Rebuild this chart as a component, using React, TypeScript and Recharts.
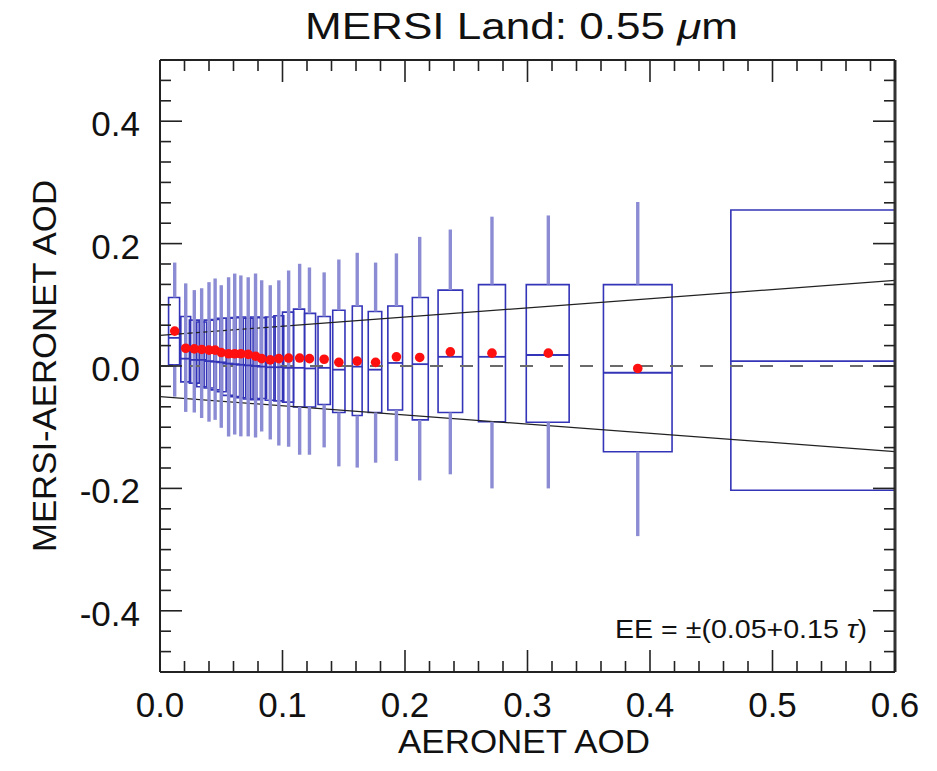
import { ComposedChart, ReferenceArea, ReferenceLine, Scatter, XAxis, YAxis } from 'recharts';

// bin centres and box edges (AERONET AOD)
const binAod = [0.012, 0.021, 0.028, 0.034, 0.040, 0.045, 0.050, 0.056, 0.061, 0.066, 0.072, 0.078, 0.083, 0.090, 0.097, 0.105, 0.114, 0.122, 0.134, 0.146, 0.161, 0.176, 0.193, 0.212, 0.237, 0.271, 0.317, 0.390, 0.620];
const boxLeft = [0.007, 0.017, 0.024, 0.030, 0.036, 0.041, 0.046, 0.051, 0.057, 0.062, 0.068, 0.074, 0.079, 0.086, 0.093, 0.100, 0.109, 0.118, 0.129, 0.141, 0.157, 0.170, 0.186, 0.206, 0.227, 0.260, 0.299, 0.362, 0.466];
const boxRight = [0.016, 0.025, 0.032, 0.038, 0.044, 0.049, 0.054, 0.060, 0.065, 0.070, 0.076, 0.082, 0.087, 0.094, 0.101, 0.109, 0.118, 0.127, 0.139, 0.151, 0.165, 0.181, 0.198, 0.219, 0.247, 0.282, 0.334, 0.418, 0.780];

// MERSI - AERONET statistics per bin
const whiskerTop = [0.169, 0.135, 0.124, 0.127, 0.137, 0.143, 0.132, 0.145, 0.151, 0.148, 0.145, 0.151, 0.140, 0.132, 0.140, 0.156, 0.167, 0.161, 0.153, 0.174, 0.185, 0.169, 0.184, 0.211, 0.223, 0.244, 0.246, 0.268, 0.420];
const upperQuartile = [0.112, 0.081, 0.075, 0.072, 0.075, 0.076, 0.078, 0.078, 0.079, 0.080, 0.078, 0.080, 0.079, 0.080, 0.082, 0.088, 0.093, 0.086, 0.081, 0.091, 0.098, 0.089, 0.098, 0.112, 0.124, 0.133, 0.133, 0.133, 0.255];
const medianBias = [0.046, 0.012, 0.010, 0.010, 0.008, 0.007, 0.006, 0.004, 0.003, 0.002, 0.001, 0.000, -0.001, -0.002, -0.002, -0.003, -0.003, -0.004, -0.003, -0.006, -0.001, -0.006, 0.005, 0.003, 0.015, 0.015, 0.018, -0.011, 0.008];
const lowerQuartile = [0.002, -0.026, -0.028, -0.034, -0.036, -0.039, -0.042, -0.048, -0.050, -0.052, -0.054, -0.055, -0.053, -0.056, -0.057, -0.059, -0.067, -0.067, -0.063, -0.076, -0.081, -0.076, -0.072, -0.088, -0.076, -0.091, -0.092, -0.140, -0.203];
const whiskerBottom = [-0.050, -0.075, -0.076, -0.085, -0.091, -0.088, -0.101, -0.115, -0.112, -0.115, -0.115, -0.117, -0.107, -0.120, -0.130, -0.132, -0.145, -0.145, -0.133, -0.164, -0.166, -0.158, -0.155, -0.187, -0.177, -0.200, -0.200, -0.278, -0.400];
const meanBias = [0.057, 0.029, 0.028, 0.027, 0.026, 0.026, 0.022, 0.020, 0.020, 0.020, 0.019, 0.016, 0.012, 0.010, 0.012, 0.013, 0.013, 0.012, 0.011, 0.006, 0.008, 0.006, 0.015, 0.014, 0.023, 0.021, 0.021, -0.004, 0.030];

// expected error envelope  EE = ±(0.05 + 0.15 tau)
const eeAod = [0, 0.6];
const eeUpper = [0.05, 0.14];
const eeLower = [-0.05, -0.14];

const xMajorTicks = [0, 0.1, 0.2, 0.3, 0.4, 0.5, 0.6];
const xTickLabels = ['0.0', '0.1', '0.2', '0.3', '0.4', '0.5', '0.6'];
const yMajorTicks = [-0.4, -0.2, 0, 0.2, 0.4];
const yTickLabels = ['-0.4', '-0.2', '0.0', '0.2', '0.4'];
const xMinorTicks = Array.from({ length: 31 }, (_, i) => Number((i * 0.02).toFixed(4)));
const yMinorTicks = Array.from({ length: 31 }, (_, i) => Number((-0.5 + i / 30).toFixed(5)));

const FONT = '"Liberation Sans", Arial, Helvetica, sans-serif';
const BOX = '#3434b8';
const WHISKER = '#8c8cd4';
const MAJOR = 22;
const MINOR = 11;

const meanPoints = binAod.map((x, i) => ({ x, y: meanBias[i] }));

// crowded boxes (overlapping a neighbour) show their whisker straight through
const crowded = binAod.map(
  (_, i) => (i > 0 && boxLeft[i] < boxRight[i - 1]) || (i < binAod.length - 1 && boxRight[i] > boxLeft[i + 1]),
);

const majorIndex = (v: number, majors: number[]) => majors.findIndex((m) => Math.abs(m - v) < 1e-6);

function BottomTick({ x, y, payload }: any) {
  const k = majorIndex(payload.value, xMajorTicks);
  return (
    <g>
      <line x1={x} x2={x} y1={y} y2={y - (k >= 0 ? MAJOR : MINOR)} stroke="#222" strokeWidth={1.6} />
      {k >= 0 && (
        <text x={x} y={y + 45} textAnchor="middle" fontSize={35} fontFamily={FONT} fill="#111">
          {xTickLabels[k]}
        </text>
      )}
    </g>
  );
}

function TopTick({ x, y, payload }: any) {
  const k = majorIndex(payload.value, xMajorTicks);
  return <line x1={x} x2={x} y1={y} y2={y + (k >= 0 ? MAJOR : MINOR)} stroke="#222" strokeWidth={1.6} />;
}

function LeftTick({ x, y, payload }: any) {
  const k = majorIndex(payload.value, yMajorTicks);
  return (
    <g>
      <line x1={x} x2={x + (k >= 0 ? MAJOR : MINOR)} y1={y} y2={y} stroke="#222" strokeWidth={1.6} />
      {k >= 0 && (
        <text x={x - 20} y={y + 15} textAnchor="end" fontSize={35} fontFamily={FONT} fill="#111">
          {yTickLabels[k]}
        </text>
      )}
    </g>
  );
}

function RightTick({ x, y, payload }: any) {
  const k = majorIndex(payload.value, yMajorTicks);
  return <line x1={x} x2={x - (k >= 0 ? MAJOR : MINOR)} y1={y} y2={y} stroke="#222" strokeWidth={1.6} />;
}

const ids = { xAxisId: 'b', yAxisId: 'l' } as const;

export default function App() {
  return (
    <div style={{ position: 'relative', width: 921, height: 755, background: '#fff' }}>
      <ComposedChart width={921} height={755} margin={{ top: 51, right: 33, bottom: 31, left: 52 }}>
        <XAxis
          xAxisId="b"
          type="number"
          dataKey="x"
          domain={[0, 0.6]}
          allowDataOverflow
          ticks={xMinorTicks}
          interval={0}
          tick={BottomTick}
          tickLine={false}
          tickSize={0}
          tickMargin={0}
          height={60}
          axisLine={{ stroke: '#222', strokeWidth: 2 }}
        />
        <XAxis
          xAxisId="t"
          orientation="top"
          type="number"
          dataKey="x"
          domain={[0, 0.6]}
          allowDataOverflow
          ticks={xMinorTicks}
          interval={0}
          tick={TopTick}
          tickLine={false}
          tickSize={0}
          tickMargin={0}
          height={1}
          axisLine={{ stroke: '#222', strokeWidth: 2 }}
        />
        <YAxis
          yAxisId="l"
          type="number"
          domain={[-0.5, 0.5]}
          allowDataOverflow
          ticks={yMinorTicks}
          interval={0}
          tick={LeftTick}
          tickLine={false}
          tickSize={0}
          tickMargin={0}
          width={100}
          axisLine={{ stroke: '#222', strokeWidth: 2 }}
        />
        <YAxis
          yAxisId="r"
          orientation="right"
          type="number"
          domain={[-0.5, 0.5]}
          allowDataOverflow
          ticks={yMinorTicks}
          interval={0}
          tick={RightTick}
          tickLine={false}
          tickSize={0}
          tickMargin={0}
          width={1}
          axisLine={{ stroke: '#333', strokeWidth: 3 }}
        />

        <ReferenceLine {...ids} y={0} stroke="#6a6a6a" strokeWidth={2} strokeDasharray="13 17" ifOverflow="hidden" />
        <ReferenceLine
          {...ids}
          segment={[{ x: eeAod[0], y: eeUpper[0] }, { x: eeAod[1], y: eeUpper[1] }]}
          stroke="#222"
          strokeWidth={1.3}
          ifOverflow="hidden"
        />
        <ReferenceLine
          {...ids}
          segment={[{ x: eeAod[0], y: eeLower[0] }, { x: eeAod[1], y: eeLower[1] }]}
          stroke="#222"
          strokeWidth={1.3}
          ifOverflow="hidden"
        />

        {binAod.map((x, i) =>
          crowded[i] ? (
            <ReferenceLine
              key={`w${i}`}
              {...ids}
              segment={[{ x, y: whiskerBottom[i] }, { x, y: whiskerTop[i] }]}
              stroke={WHISKER}
              strokeWidth={3.4}
              ifOverflow="hidden"
            />
          ) : (
            <ReferenceLine
              key={`w${i}`}
              {...ids}
              segment={[{ x, y: upperQuartile[i] }, { x, y: whiskerTop[i] }]}
              stroke={WHISKER}
              strokeWidth={3.4}
              ifOverflow="hidden"
            />
          ),
        )}
        {binAod.map((x, i) =>
          crowded[i] ? null : (
            <ReferenceLine
              key={`wb${i}`}
              {...ids}
              segment={[{ x, y: lowerQuartile[i] }, { x, y: whiskerBottom[i] }]}
              stroke={WHISKER}
              strokeWidth={3.4}
              ifOverflow="hidden"
            />
          ),
        )}
        {binAod.map((_, i) => (
          <ReferenceArea
            key={`box${i}`}
            {...ids}
            x1={boxLeft[i]}
            x2={boxRight[i]}
            y1={lowerQuartile[i]}
            y2={upperQuartile[i]}
            fill="none"
            stroke={BOX}
            strokeWidth={1.6}
            ifOverflow="hidden"
          />
        ))}
        {binAod.map((_, i) => (
          <ReferenceLine
            key={`med${i}`}
            {...ids}
            segment={[{ x: boxLeft[i], y: medianBias[i] }, { x: boxRight[i], y: medianBias[i] }]}
            stroke={BOX}
            strokeWidth={1.8}
            ifOverflow="hidden"
          />
        ))}

        <Scatter
          {...ids}
          data={meanPoints}
          dataKey="y"
          isAnimationActive={false}
          shape={(p: any) => <circle cx={p.cx} cy={p.cy} r={4.8} fill="#ff1010" />}
        />
      </ComposedChart>

      <svg width={937} height={771} style={{ position: 'absolute', left: -8, top: -8, pointerEvents: 'none' }}>
        <text x={521.5} y={39} textAnchor="middle" fontSize={36} fontFamily={FONT} fill="#111" textLength={433} lengthAdjust="spacingAndGlyphs">
          MERSI Land: 0.55 <tspan fontStyle="italic">μ</tspan>m
        </text>
        <text x={524} y={753} textAnchor="middle" fontSize={33} fontFamily={FONT} fill="#111" textLength={252} lengthAdjust="spacingAndGlyphs">
          AERONET AOD
        </text>
        <text
          transform="translate(56 366) rotate(-90)"
          textAnchor="middle"
          fontSize={33}
          fontFamily={FONT}
          fill="#111"
          textLength={372}
          lengthAdjust="spacingAndGlyphs"
        >
          MERSI-AERONET AOD
        </text>
        <text x={867} y={638} textAnchor="end" fontSize={25} fontFamily={FONT} fill="#111" textLength={252} lengthAdjust="spacingAndGlyphs">
          EE = ±(0.05+0.15 <tspan fontStyle="italic">τ</tspan>)
        </text>
      </svg>
    </div>
  );
}
